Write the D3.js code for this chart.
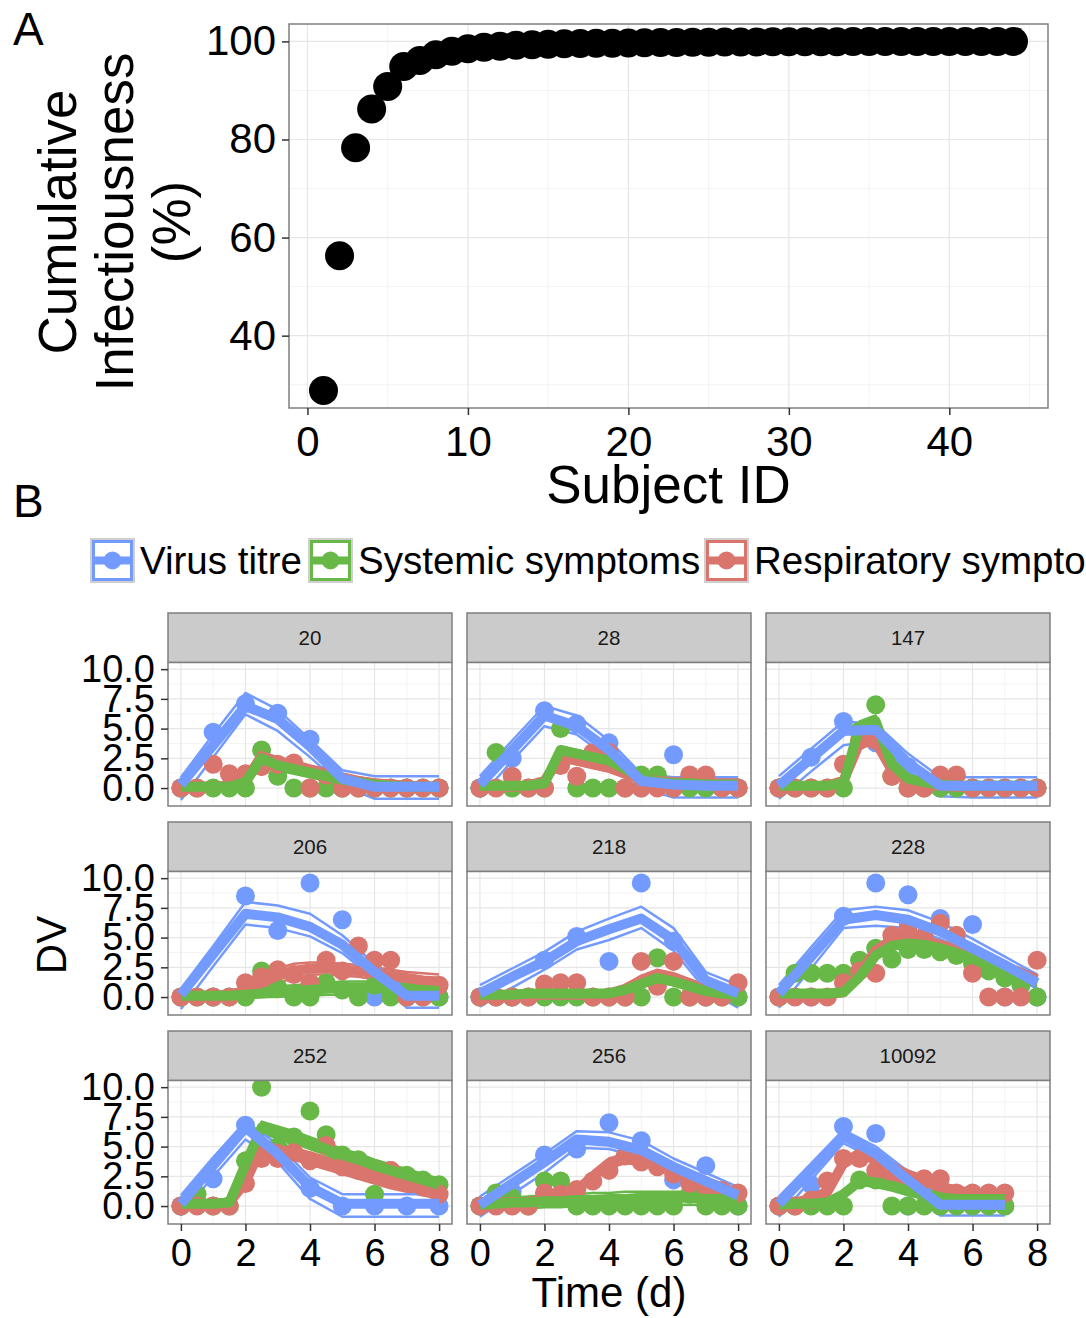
<!DOCTYPE html>
<html>
<head>
<meta charset="utf-8">
<script src="https://cdn.jsdelivr.net/npm/d3@7"></script>
<style>
  body { margin: 0; background: #fff; }
  svg { display: block; font-family: "Liberation Sans", Arial, Helvetica, sans-serif; }
</style>
</head>
<body>
<div id="chart"></div>
<script>
// ---- panel A data ----
const subjectIds = [1,2,3,4,5,6,7,8,9,10,11,12,13,14,15,16,17,18,19,20,21,22,
  23,24,25,26,27,28,29,30,31,32,33,34,35,36,37,38,39,40,41,42,43,44];
const cumInfect = [28.8,56.3,78.3,86.2,90.8,94.9,96.1,97.3,98.0,98.5,98.8,99.0,
  99.2,99.3,99.4,99.5,99.55,99.6,99.65,99.7,99.74,99.78,99.8,99.83,99.85,99.87,
  99.89,99.9,99.91,99.92,99.93,99.94,99.95,99.96,99.96,99.97,99.97,99.98,99.98,
  99.99,99.99,99.99,100,100];

// ---- panel B data ----
const subjects = ["20","28","147","206","218","228","252","256","10092"];
const dayTimes = [0,1,2,3,4,5,6,7,8];
const halfTimes = [0,0.5,1,1.5,2,2.5,3,3.5,4,4.5,5,5.5,6,6.5,7,7.5,8];
const seriesNames = ["Virus titre","Systemic symptoms","Respiratory symptoms"];
const seriesColors = ["#739bff","#67b846","#d9756c"];

const virusObs = {
  "20":[0,4.7,7.1,6.3,4.1,0,0,0,0], "28":[0,2.5,6.5,5.4,3.8,0,2.8,0,0],
  "147":[0,2.6,5.6,3.8,1.8,0,0,0,0], "206":[0,0,8.5,5.6,9.6,6.5,0,0,0],
  "218":[0,0,3.1,5.1,3.0,9.6,4.7,0,0], "228":[0,0,6.8,9.6,8.6,6.6,6.1,0,0],
  "252":[0,2.3,6.8,4.3,1.5,0,0,0,0], "256":[0,1.2,4.3,4.8,7.0,5.5,2.2,3.4,0],
  "10092":[0,1.8,6.7,6.1,0,0,0,0]
};
const virusMed = {
  "20":[0.3,3.6,6.9,5.8,3.5,0.8,0.1,0.1,0.1], "28":[0.3,3.2,6.1,5.2,3.2,0.6,0.3,0.2,0.2],
  "147":[0.2,2.5,4.8,4.9,2.1,0.2,0.2,0.2,0.2], "206":[0.2,3.6,7.0,6.7,5.9,4.4,2.1,0.1,0.1],
  "218":[0.3,1.7,3.0,4.7,5.7,6.6,4.8,1.4,0.3], "228":[0.3,3.4,6.5,6.9,6.5,5.5,4.1,2.7,1.2],
  "252":[0.2,3.4,6.6,4.4,1.6,0.2,0.2,0.2,0.2], "256":[0.1,1.9,3.7,5.6,5.4,4.7,3.3,2.1,0.9],
  "10092":[0.2,3.0,5.9,4.4,2.2,0.1,0.1,0.1]
};
const virusHi = {
  "20":[0.9,4.5,8.0,6.6,4.1,1.5,1.0,1.0,1.0], "28":[1.0,4.0,6.9,6.1,4.0,1.2,0.9,0.9,0.9],
  "147":[1.0,3.3,5.6,5.4,2.9,0.9,0.9,0.9,0.9], "206":[0.7,4.3,8.0,7.7,7.0,5.2,2.8,0.6,0.6],
  "218":[1.0,2.4,3.8,5.5,6.6,7.6,5.8,2.1,1.0], "228":[1.0,4.2,7.3,7.6,7.3,6.3,4.9,3.4,1.9],
  "252":[0.9,4.1,7.1,5.2,2.4,1.0,1.0,1.0,1.0], "256":[0.8,2.6,4.4,6.3,6.2,5.5,4.0,2.8,1.6],
  "10092":[0.8,3.6,6.4,5.0,2.9,0.6,0.6,0.6]
};
const virusLo = {
  "20":[-1.0,2.6,6.2,4.8,2.6,0.2,-0.9,-0.9,-0.9], "28":[-0.8,2.3,5.2,4.5,2.5,0.0,-0.8,-0.8,-0.8],
  "147":[-0.9,1.4,3.6,4.0,1.5,-0.7,-0.8,-0.8,-0.8], "206":[-1.0,2.6,6.1,5.8,5.1,3.7,1.5,-0.9,-0.9],
  "218":[-0.8,0.8,2.3,4.0,4.8,5.8,3.9,0.6,-0.9], "228":[-0.9,2.4,5.8,6.0,5.8,4.9,3.4,2.0,0.7],
  "252":[-0.8,2.5,5.6,3.7,0.6,-0.9,-0.9,-0.9,-0.9], "256":[-0.9,1.0,2.8,4.9,4.8,4.1,2.7,1.5,0.3],
  "10092":[-0.9,2.2,5.3,3.9,1.6,-0.8,-0.8,-0.8]
};

const sysObs = {
  "20":[0,0,0,0,0,3.2,1.0,0,0,0,0,0,0,0,0,0,0],
  "28":[0,3.0,0,0,0,5.0,0,0,0,0,1.1,1.1,0,0,0,0,0],
  "147":[0,0,0,0,0,4.8,7.0,1.0,0,0,0,0,0,0,0,0,0],
  "206":[0,0,0,0,0,2.2,0.8,0,0,1.2,0.6,0,1.0,0,0,0,0],
  "218":[0,0,0,0,0,0,0,0,0,0,0,3.3,0,0,0,0,0],
  "228":[0,2.0,2.0,2.0,2.0,3.1,4.1,3.2,4.0,4.0,3.8,3.5,2.8,2.2,1.6,1.0,0],
  "252":[0,1.0,0,0,3.8,10.0,5.0,5.8,8.0,6.0,4.3,3.9,1.0,3.0,2.6,2.2,1.8],
  "256":[0,1.1,0.7,0,2.1,2.1,0,0,0,0,0,0,0,1.0,0,0,0],
  "10092":[0,0,0,0,0,2.2,2.2,0,0,0,0,0,0,0,0]
};
const sysMed = {
  "20":[0.1,0.1,0.1,0.1,0.5,2.5,1.9,1.6,1.3,1.0,0.7,0.5,0.3,0.2,0.1,0.1,0.1],
  "28":[0.2,0.2,0.2,0.2,0.4,3.2,2.9,2.6,2.3,1.6,0.9,0.5,0.4,0.4,0.3,0.3,0.3],
  "147":[0.2,0.2,0.2,0.2,0.4,5.2,5.6,2.0,0.8,0.5,0.3,0.2,0.2,0.2,0.2,0.2,0.2],
  "206":[0.1,0.1,0.1,0.1,0.2,0.3,0.4,0.5,0.6,0.7,0.8,0.8,0.8,0.7,0.6,0.6,0.5],
  "218":[0.2,0.2,0.2,0.3,0.3,0.3,0.3,0.3,0.3,0.6,1.1,1.6,1.3,0.9,0.5,0.3,0.2],
  "228":[0.3,0.3,0.3,0.3,0.4,1.7,3.5,4.3,4.5,4.4,4.1,3.7,3.2,2.7,2.2,1.7,1.2],
  "252":[0.2,0.2,0.2,0.3,3.5,6.6,6.2,5.8,5.3,4.8,4.3,3.9,3.4,3.0,2.6,2.2,1.8],
  "256":[0.1,0.2,0.3,0.3,0.4,0.4,0.5,0.5,0.6,0.6,0.7,0.7,0.7,0.7,0.6,0.6,0.5],
  "10092":[0.1,0.2,0.2,0.3,1.0,2.1,2.0,1.7,1.3,1.0,0.7,0.6,0.6,0.6,0.6]
};
const sysHi = {
  "20":[0.3,0.3,0.3,0.3,0.8,2.9,2.3,2.0,1.7,1.4,1.1,0.8,0.6,0.5,0.4,0.4,0.4],
  "28":[0.4,0.4,0.4,0.4,0.7,3.5,3.2,2.9,2.6,1.9,1.2,0.8,0.7,0.7,0.6,0.6,0.6],
  "147":[0.4,0.4,0.4,0.4,0.7,5.6,6.1,2.5,1.2,0.8,0.5,0.4,0.4,0.4,0.4,0.4,0.4],
  "206":[0.4,0.4,0.4,0.4,0.5,0.7,0.9,1.0,1.1,1.2,1.3,1.3,1.3,1.2,1.1,1.1,1.0],
  "218":[0.4,0.4,0.4,0.5,0.5,0.5,0.5,0.5,0.5,0.8,1.4,1.9,1.6,1.2,0.8,0.6,0.5],
  "228":[0.5,0.5,0.5,0.5,0.7,2.0,3.8,4.6,4.8,4.7,4.4,4.0,3.5,3.0,2.5,2.0,1.5],
  "252":[0.4,0.4,0.4,0.5,3.9,7.1,6.7,6.3,5.8,5.3,4.8,4.4,3.9,3.5,3.1,2.7,2.3],
  "256":[0.4,0.6,0.7,0.8,0.9,1.0,1.0,1.1,1.1,1.2,1.2,1.2,1.2,1.2,1.1,1.1,1.0],
  "10092":[0.3,0.4,0.4,0.5,1.3,2.5,2.4,2.1,1.7,1.4,1.1,0.9,0.9,0.9,0.9]
};
const sysLo = {
  "20":[-0.1,-0.1,-0.1,-0.1,0.2,2.1,1.5,1.2,0.9,0.6,0.4,0.2,0.0,-0.1,-0.2,-0.2,-0.2],
  "28":[0.0,0.0,0.0,0.0,0.2,2.9,2.6,2.3,2.0,1.3,0.6,0.3,0.2,0.2,0.1,0.1,0.1],
  "147":[0.0,0.0,0.0,0.0,0.2,4.8,5.0,1.5,0.5,0.2,0.1,0.0,0.0,0.0,0.0,0.0,0.0],
  "206":[-0.2,-0.2,-0.2,-0.2,-0.1,0.0,0.0,0.1,0.1,0.2,0.2,0.2,0.2,0.2,0.1,0.1,0.0],
  "218":[0.0,0.0,0.0,0.1,0.1,0.1,0.1,0.1,0.1,0.4,0.8,1.3,1.0,0.6,0.2,0.0,-0.1],
  "228":[0.1,0.1,0.1,0.1,0.2,1.4,3.2,4.0,4.2,4.1,3.8,3.4,2.9,2.4,1.9,1.4,0.9],
  "252":[0.0,0.0,0.0,0.1,3.1,6.1,5.7,5.3,4.8,4.3,3.8,3.4,2.9,2.5,2.1,1.7,1.3],
  "256":[-0.2,-0.2,-0.2,-0.2,-0.1,-0.1,0.0,0.0,0.0,0.0,0.1,0.1,0.1,0.1,0.1,0.0,0.0],
  "10092":[-0.1,0.0,0.0,0.1,0.7,1.8,1.6,1.3,0.9,0.6,0.4,0.3,0.3,0.3,0.3]
};

const respObs = {
  "20":[0,0,2.0,1.2,1.2,1.8,2.0,2.1,0,1.1,0,0,0,0,0,0,0],
  "28":[0,0,1.0,0,0,1.9,1.0,3.0,3.0,0,0,0,0,1.1,1.1,0,0],
  "147":[0,0,0,0,2.0,4.0,4.0,1.0,0,0,1.1,1.1,0,0,0,0,0],
  "206":[0,0,0,0,1.2,1.7,2.3,1.9,1.2,3.1,2.2,4.3,3.1,3.1,0,0,1.0],
  "218":[0,0,0,0,1.1,1.2,1.2,0,0,0,3.0,0.9,3.0,0,0,0,1.2],
  "228":[0,0,0,0,1.2,2.2,2.0,5.2,5.9,5.1,6.2,5.2,2.0,0,0,0,3.1],
  "252":[0,0,0,0,1.9,4.0,4.0,4.5,3.8,5.1,3.3,3.0,2.7,3.0,2.0,1.6,1.0],
  "256":[0,0,0,0,1.1,1.0,1.4,2.1,3.0,4.2,3.7,3.3,2.7,1.9,1.6,1.3,1.1],
  "10092":[0,0,0.5,2.1,4.0,4.0,3.0,2.5,2.0,2.3,2.3,1.1,1.1,1.1,1.1]
};
const respMed = {
  "20":[0.1,0.1,0.1,0.2,0.6,2.7,2.2,1.9,1.5,1.2,0.9,0.6,0.4,0.3,0.2,0.1,0.1],
  "28":[0.1,0.1,0.1,0.2,0.6,2.6,2.3,2.0,1.7,1.2,0.8,0.6,0.5,0.4,0.4,0.4,0.4],
  "147":[0.1,0.1,0.1,0.2,0.6,3.8,3.9,1.5,0.5,0.3,0.2,0.1,0.1,0.1,0.1,0.1,0.1],
  "206":[0.1,0.1,0.1,0.2,0.5,1.2,1.8,2.2,2.4,2.4,2.3,2.2,2.0,1.8,1.6,1.4,1.3],
  "218":[0.2,0.2,0.2,0.2,0.2,0.2,0.2,0.2,0.3,0.7,1.4,1.9,1.6,1.1,0.6,0.4,0.3],
  "228":[0.2,0.2,0.2,0.2,0.4,2.0,3.9,4.8,5.0,4.8,4.4,4.0,3.5,3.0,2.5,2.0,1.5],
  "252":[0.2,0.2,0.2,0.3,2.0,5.0,4.8,4.4,4.0,3.6,3.2,2.8,2.4,2.0,1.7,1.4,1.1],
  "256":[0.3,0.3,0.3,0.3,0.6,0.8,1.3,2.5,3.6,4.0,3.9,3.6,3.1,2.5,2.0,1.5,1.0],
  "10092":[0.2,0.3,0.6,1.2,3.6,4.4,4.0,3.3,2.6,2.1,1.6,1.3,1.1,1.1,1.1]
};
const respHi = {
  "20":[0.3,0.3,0.3,0.4,0.9,3.0,2.6,2.3,1.9,1.6,1.2,0.9,0.7,0.6,0.5,0.4,0.4],
  "28":[0.3,0.3,0.3,0.4,0.9,2.9,2.6,2.3,2.0,1.5,1.1,0.9,0.8,0.7,0.7,0.7,0.7],
  "147":[0.3,0.3,0.3,0.4,0.9,4.1,4.2,1.9,0.8,0.5,0.4,0.3,0.3,0.3,0.3,0.3,0.3],
  "206":[0.3,0.3,0.3,0.5,0.9,1.8,2.4,2.8,2.9,2.9,2.8,2.7,2.5,2.3,2.1,2.0,1.9],
  "218":[0.4,0.4,0.4,0.4,0.4,0.4,0.4,0.4,0.5,1.0,1.8,2.3,2.0,1.5,1.0,0.7,0.6],
  "228":[0.4,0.4,0.4,0.4,0.7,2.4,4.3,5.2,5.4,5.2,4.8,4.4,3.9,3.4,2.9,2.4,1.9],
  "252":[0.4,0.4,0.4,0.5,2.4,5.5,5.3,4.9,4.5,4.1,3.7,3.3,2.9,2.5,2.2,1.9,1.6],
  "256":[0.5,0.5,0.5,0.5,0.8,1.1,1.7,2.9,4.0,4.4,4.3,4.0,3.5,2.9,2.4,1.9,1.4],
  "10092":[0.4,0.5,0.9,1.6,4.0,4.8,4.4,3.7,3.0,2.5,2.0,1.6,1.4,1.4,1.4]
};
const respLo = {
  "20":[-0.1,-0.1,-0.1,0.0,0.3,2.3,1.8,1.5,1.1,0.8,0.5,0.3,0.1,0.0,-0.1,-0.2,-0.2],
  "28":[-0.1,-0.1,-0.1,0.0,0.3,2.3,2.0,1.7,1.4,0.9,0.5,0.3,0.2,0.1,0.1,0.1,0.1],
  "147":[-0.1,-0.1,-0.1,0.0,0.3,3.5,3.6,1.1,0.2,0.1,0.0,-0.1,-0.1,-0.1,-0.1,-0.1,-0.1],
  "206":[-0.1,-0.1,-0.1,0.0,0.2,0.7,1.2,1.6,1.9,1.9,1.8,1.7,1.5,1.3,1.1,0.9,0.8],
  "218":[0.0,0.0,0.0,0.0,0.0,0.0,0.0,0.0,0.1,0.4,1.0,1.5,1.2,0.7,0.3,0.1,0.0],
  "228":[0.0,0.0,0.0,0.0,0.2,1.6,3.5,4.4,4.6,4.4,4.0,3.6,3.1,2.6,2.1,1.6,1.1],
  "252":[0.0,0.0,0.0,0.1,1.6,4.5,4.3,3.9,3.5,3.1,2.7,2.3,1.9,1.5,1.2,0.9,0.6],
  "256":[0.1,0.1,0.1,0.1,0.4,0.5,1.0,2.1,3.2,3.6,3.5,3.2,2.7,2.1,1.6,1.1,0.6],
  "10092":[0.0,0.1,0.3,0.8,3.2,4.0,3.6,2.9,2.2,1.7,1.2,1.0,0.8,0.8,0.8]
};

const xTicksA = [0,10,20,30,40];
const yTicksA = [40,60,80,100];
const xTicksB = [0,2,4,6,8];
const yTicksB = [0,2.5,5,7.5,10];

// ---- drawing ----
const W = 1086, H = 1318;
const GRID_MAJOR = "#e6e6e6", GRID_MINOR = "#f3f3f3", BORDER = "#7f7f7f";

const svg = d3.select("#chart").append("svg")
  .attr("width", W).attr("height", H);

svg.append("rect").attr("width", W).attr("height", H).attr("fill", "#fff");

// panel labels
svg.append("text").attr("x", 13).attr("y", 45).attr("font-size", 46).text("A");
svg.append("text").attr("x", 13).attr("y", 517).attr("font-size", 46).text("B");

// ======== Panel A ========
const A = {left: 289, right: 1048, top: 24, bottom: 408};
const xA = d3.scaleLinear().domain([-1.15, 46.15]).range([A.left, A.right]);
const yA = d3.scaleLinear().domain([25.25, 103.55]).range([A.bottom, A.top]);

const gA = svg.append("g");
// minor grid
gA.selectAll(".vminA").data([5,15,25,35,45]).join("line")
  .attr("x1", d => xA(d)).attr("x2", d => xA(d))
  .attr("y1", A.top).attr("y2", A.bottom)
  .attr("stroke", GRID_MINOR).attr("stroke-width", 1);
gA.selectAll(".hminA").data([30,50,70,90]).join("line")
  .attr("y1", d => yA(d)).attr("y2", d => yA(d))
  .attr("x1", A.left).attr("x2", A.right)
  .attr("stroke", GRID_MINOR).attr("stroke-width", 1);
// major grid
gA.selectAll(".vmajA").data(xTicksA).join("line")
  .attr("x1", d => xA(d)).attr("x2", d => xA(d))
  .attr("y1", A.top).attr("y2", A.bottom)
  .attr("stroke", GRID_MAJOR).attr("stroke-width", 1.2);
gA.selectAll(".hmajA").data(yTicksA).join("line")
  .attr("y1", d => yA(d)).attr("y2", d => yA(d))
  .attr("x1", A.left).attr("x2", A.right)
  .attr("stroke", GRID_MAJOR).attr("stroke-width", 1.2);

gA.selectAll("circle").data(subjectIds).join("circle")
  .attr("cx", d => xA(d))
  .attr("cy", (d, i) => yA(cumInfect[i]))
  .attr("r", 14.5)
  .attr("fill", "#000");

gA.append("rect")
  .attr("x", A.left).attr("y", A.top)
  .attr("width", A.right - A.left).attr("height", A.bottom - A.top)
  .attr("fill", "none").attr("stroke", BORDER).attr("stroke-width", 1.5);

// axes A
const axisXA = gA.append("g").attr("transform", `translate(0,${A.bottom})`)
  .call(d3.axisBottom(xA).tickValues(xTicksA).tickSize(7).tickPadding(11).tickFormat(d3.format("d")));
axisXA.select(".domain").remove();
axisXA.selectAll("line").attr("stroke", "#333").attr("stroke-width", 1.5);
axisXA.selectAll("text").attr("font-size", 42).attr("fill", "#000")
  .attr("font-family", null).attr("dy", "0.71em");

const axisYA = gA.append("g").attr("transform", `translate(${A.left},0)`)
  .call(d3.axisLeft(yA).tickValues(yTicksA).tickSize(7).tickPadding(6).tickFormat(d3.format("d")));
axisYA.select(".domain").remove();
axisYA.selectAll("line").attr("stroke", "#333").attr("stroke-width", 1.5);
axisYA.selectAll("text").attr("font-size", 42).attr("fill", "#000").attr("font-family", null);

svg.append("text")
  .attr("x", (A.left + A.right) / 2).attr("y", 503)
  .attr("text-anchor", "middle").attr("font-size", 53)
  .text("Subject ID");

const yTitleLines = ["Cumulative", "Infectiousness", "(%)"];
const yTitleBase = [76, 133, 190];
yTitleLines.forEach((t, i) => {
  svg.append("text")
    .attr("transform", `translate(${yTitleBase[i]},222) rotate(-90)`)
    .attr("text-anchor", "middle").attr("font-size", 53)
    .text(t);
});

// ======== Legend ========
const legend = svg.append("g");
const keyXs = [92, 310, 706];
const keyY = 540, keySize = 41;
seriesNames.forEach((name, i) => {
  const keyX = keyXs[i];
  const k = legend.append("g").attr("transform", `translate(${keyX},${keyY})`);
  k.append("rect").attr("x", -1).attr("y", -1)
    .attr("width", keySize + 2).attr("height", keySize + 2)
    .attr("fill", "none").attr("stroke", "#cfcfcf").attr("stroke-width", 2);
  k.append("rect").attr("x", 1.5).attr("y", 1.5)
    .attr("width", keySize - 3).attr("height", keySize - 3)
    .attr("fill", "#fff").attr("stroke", seriesColors[i]).attr("stroke-width", 3);
  k.append("line").attr("x1", 3).attr("x2", keySize - 3)
    .attr("y1", keySize / 2).attr("y2", keySize / 2)
    .attr("stroke", seriesColors[i]).attr("stroke-width", 8);
  k.append("circle").attr("cx", keySize / 2).attr("cy", keySize / 2).attr("r", 9)
    .attr("fill", seriesColors[i]);
  legend.append("text")
    .attr("x", keyX + keySize + 7).attr("y", keyY + keySize / 2)
    .attr("dy", "0.35em").attr("font-size", 38.5)
    .text(name);
});

// ======== Panel B facets ========
const colLeft = [168, 467, 766];
const rowTop = [613, 822, 1031];
const facetW = 284, stripH = 49.5, panelH = 143.5;
const xB = d3.scaleLinear().domain([-0.4, 8.4]).range([0, facetW]);
const yB = d3.scaleLinear().domain([-1.51, 10.56]).range([panelH, 0]);
const lineB = d3.line().x(d => xB(d[0])).y(d => yB(d[1]));

const pairs = (times, vals) => vals.map((v, i) => [times[i], v]);

// series in drawing order: respiratory, systemic, virus
const layers = [
  {color: seriesColors[2], times: halfTimes, obs: respObs, med: respMed, lo: respLo, hi: respHi},
  {color: seriesColors[1], times: halfTimes, obs: sysObs, med: sysMed, lo: sysLo, hi: sysHi},
  {color: seriesColors[0], times: dayTimes, obs: virusObs, med: virusMed, lo: virusLo, hi: virusHi}
];

const defs = svg.append("defs");

subjects.forEach((id, idx) => {
  const col = idx % 3, row = Math.floor(idx / 3);
  const fx = colLeft[col], fy = rowTop[row];
  const g = svg.append("g").attr("transform", `translate(${fx},${fy})`);

  // strip
  g.append("rect").attr("x", 0).attr("y", 0)
    .attr("width", facetW).attr("height", stripH)
    .attr("fill", "#cbcbcb").attr("stroke", BORDER).attr("stroke-width", 1.5);
  g.append("text").attr("x", facetW / 2).attr("y", stripH / 2)
    .attr("dy", "0.36em").attr("text-anchor", "middle")
    .attr("font-size", 20.5).attr("fill", "#1a1a1a").text(id);

  const p = g.append("g").attr("transform", `translate(0,${stripH})`);
  defs.append("clipPath").attr("id", "clip" + idx)
    .append("rect").attr("width", facetW).attr("height", panelH);

  p.append("rect").attr("width", facetW).attr("height", panelH).attr("fill", "#fff");
  // grid
  p.selectAll(".vmin").data([1,3,5,7]).join("line")
    .attr("x1", d => xB(d)).attr("x2", d => xB(d)).attr("y1", 0).attr("y2", panelH)
    .attr("stroke", GRID_MINOR).attr("stroke-width", 1);
  p.selectAll(".hmin").data([1.25,3.75,6.25,8.75]).join("line")
    .attr("y1", d => yB(d)).attr("y2", d => yB(d)).attr("x1", 0).attr("x2", facetW)
    .attr("stroke", GRID_MINOR).attr("stroke-width", 1);
  p.selectAll(".vmaj").data(xTicksB).join("line")
    .attr("x1", d => xB(d)).attr("x2", d => xB(d)).attr("y1", 0).attr("y2", panelH)
    .attr("stroke", GRID_MAJOR).attr("stroke-width", 1.2);
  p.selectAll(".hmaj").data(yTicksB).join("line")
    .attr("y1", d => yB(d)).attr("y2", d => yB(d)).attr("x1", 0).attr("x2", facetW)
    .attr("stroke", GRID_MAJOR).attr("stroke-width", 1.2);

  const data = p.append("g").attr("clip-path", `url(#clip${idx})`);

  // interval lines
  layers.forEach(L => {
    [L.lo[id], L.hi[id]].forEach(vals => {
      data.append("path").datum(pairs(L.times, vals)).attr("d", lineB)
        .attr("fill", "none").attr("stroke", L.color).attr("stroke-width", 2.5)
        .attr("stroke-linejoin", "round");
    });
  });
  // observations
  layers.slice().reverse().forEach(L => {
    data.append("g").selectAll("circle").data(pairs(L.times, L.obs[id])).join("circle")
      .attr("cx", d => xB(d[0])).attr("cy", d => yB(d[1])).attr("r", 9.5)
      .attr("fill", L.color);
  });
  // median lines
  layers.forEach(L => {
    data.append("path").datum(pairs(L.times, L.med[id])).attr("d", lineB)
      .attr("fill", "none").attr("stroke", L.color).attr("stroke-width", 10)
      .attr("stroke-linejoin", "round");
  });

  p.append("rect").attr("width", facetW).attr("height", panelH)
    .attr("fill", "none").attr("stroke", BORDER).attr("stroke-width", 1.5);

  if (col === 0) {
    const ay = p.append("g")
      .call(d3.axisLeft(yB).tickValues(yTicksB).tickSize(7).tickPadding(6).tickFormat(d3.format(".1f")));
    ay.select(".domain").remove();
    ay.selectAll("line").attr("stroke", "#333").attr("stroke-width", 1.5);
    ay.selectAll("text").attr("font-size", 38).attr("fill", "#000").attr("font-family", null);
  }
  if (row === 2) {
    const ax = p.append("g").attr("transform", `translate(0,${panelH})`)
      .call(d3.axisBottom(xB).tickValues(xTicksB).tickSize(7).tickPadding(8).tickFormat(d3.format("d")));
    ax.select(".domain").remove();
    ax.selectAll("line").attr("stroke", "#333").attr("stroke-width", 1.5);
    ax.selectAll("text").attr("font-size", 38).attr("fill", "#000").attr("font-family", null);
  }
});

svg.append("text")
  .attr("x", (colLeft[0] + colLeft[2] + facetW) / 2).attr("y", 1307)
  .attr("text-anchor", "middle").attr("font-size", 42)
  .text("Time (d)");

svg.append("text")
  .attr("transform", "translate(66,945) rotate(-90)")
  .attr("text-anchor", "middle").attr("font-size", 42)
  .text("DV");
</script>
</body>
</html>
